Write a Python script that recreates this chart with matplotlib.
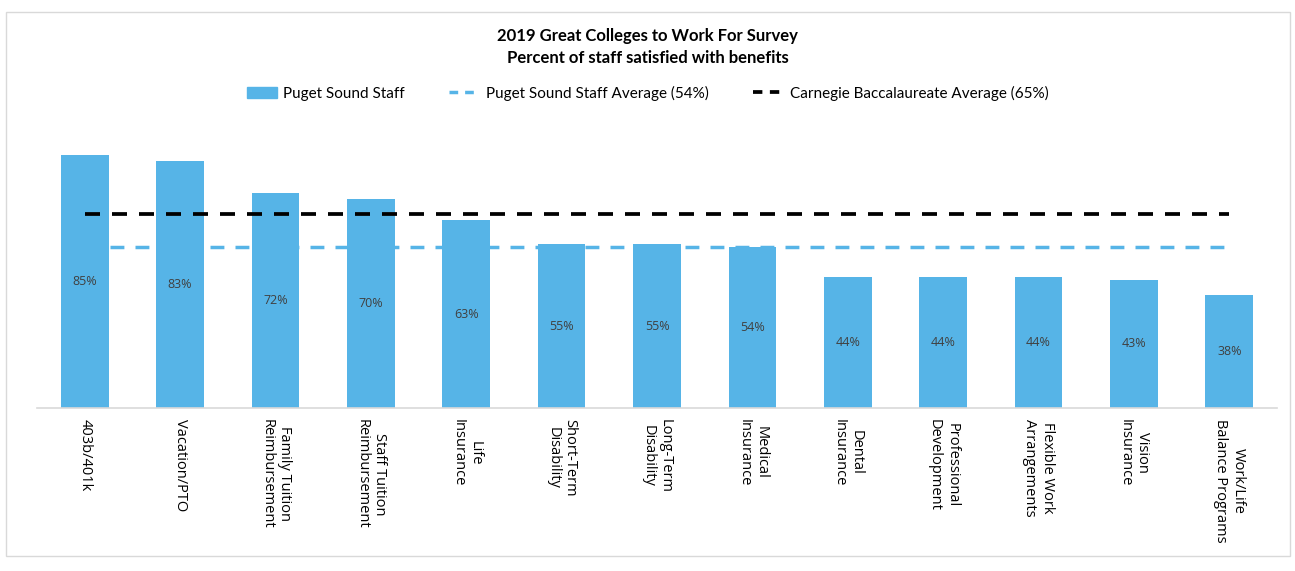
import numpy as np
import matplotlib.pyplot as plt
from matplotlib.lines import Line2D
from matplotlib.patches import Patch, Rectangle

# chart data
categories = ["403b/401k", "Vacation/PTO", "Family Tuition\nReimbursement",
              "Staff Tuition\nReimbursement", "Life\nInsurance",
              "Short-Term\nDisability", "Long-Term\nDisability",
              "Medical\nInsurance", "Dental\nInsurance", "Professional\nDevelopment",
              "Flexible Work\nArrangements", "Vision\nInsurance",
              "Work/Life\nBalance Programs"]
staff_pct = [85, 83, 72, 70, 63, 55, 55, 54, 44, 44, 44, 43, 38]
staff_avg = 54
carnegie_avg = 65

bar_color = "#56B4E7"
label_font = "Open Sans"
title_font = "Lato"

fig = plt.figure(figsize=(12.95, 5.71), dpi=100)
fig.patches.append(Rectangle((6 / 1295, 15 / 571), 1284 / 1295, 544 / 571,
                             transform=fig.transFigure, fill=False,
                             edgecolor="#d9d9d9", linewidth=1))

ax = fig.add_axes([37 / 1295, 163 / 571, 1240 / 1295, 298 / 571])
x = np.arange(len(categories))

bars = ax.bar(x, staff_pct, width=0.5, color=bar_color, zorder=2)
ax.plot(x, [staff_avg] * len(x), color=bar_color, lw=2.5, dashes=(4, 3.2),
        zorder=1)
ax.plot(x, [carnegie_avg] * len(x), color="black", lw=2.7, dashes=(4, 3.2),
        zorder=3)

# labels in the middle of each bar
for xi, v in zip(x, staff_pct):
    ax.text(xi, v / 2, f"{v}%", ha="center", va="center", fontsize=9,
            color="#404040", family=label_font, zorder=4)

ax.set_xlim(-0.5, len(x) - 0.5)
ax.set_ylim(0, 100)
ax.set_yticks([])
ax.set_xticks(x)
ax.set_xticklabels(categories, rotation=-90, ha="center", va="top",
                   multialignment="center", fontsize=10.5, family=label_font,
                   color="black")
ax.tick_params(axis="x", length=0, pad=8)
for s in ["top", "left", "right"]:
    ax.spines[s].set_visible(False)
ax.spines["bottom"].set_color("#d9d9d9")
ax.spines["bottom"].set_linewidth(1.2)

fig.text(0.5, 524 / 571, "2019 Great Colleges to Work For Survey\n"
         "Percent of staff satisfied with benefits", ha="center", va="center",
         fontsize=12, fontweight="bold", family=title_font, linespacing=1.4)

handles = [Patch(color=bar_color),
           Line2D([], [], color=bar_color, lw=2.5, dashes=(2.5, 2)),
           Line2D([], [], color="black", lw=2.7, dashes=(2.5, 2))]
names = ["Puget Sound Staff", "Puget Sound Staff Average (54%)",
         "Carnegie Baccalaureate Average (65%)"]
fig.legend(handles, names, loc="center", bbox_to_anchor=(0.5, 478 / 571),
           ncol=3, frameon=False, prop={"family": title_font, "size": 11},
           handlelength=2.0, columnspacing=2.9, handletextpad=0.4)

fig.savefig("out.png", dpi=100)
